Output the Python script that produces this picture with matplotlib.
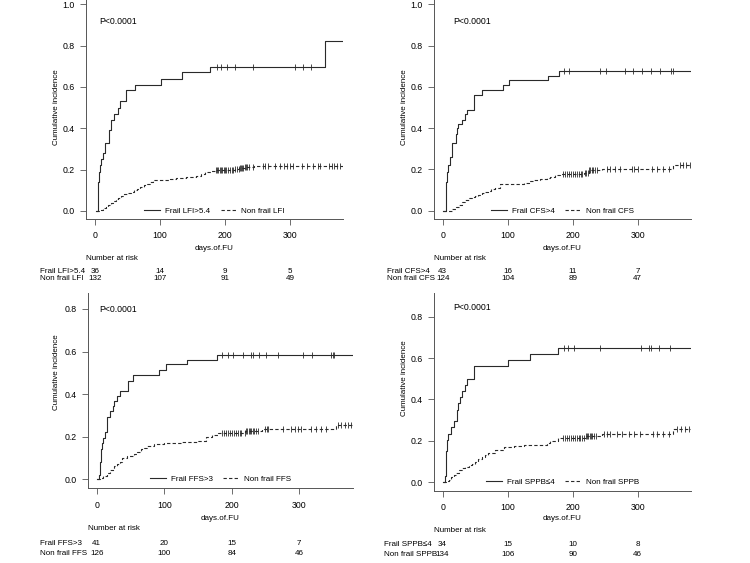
import numpy as np
import matplotlib
matplotlib.use("Agg")
import matplotlib.pyplot as plt
from matplotlib.transforms import blended_transform_factory

plt.rcParams['font.family'] = ['Liberation Sans', 'DejaVu Sans']

# ---- data (days, cumulative incidence) ----
# LFI
lfi_frail_t = [1, 5, 6, 8, 10, 13, 16, 22, 24, 30, 36, 38, 47, 61, 101, 134, 177, 354, 382]
lfi_frail_v = [0, 0.14, 0.19, 0.22, 0.25, 0.28, 0.33, 0.39, 0.44, 0.47, 0.50, 0.53, 0.585, 0.61, 0.64, 0.67, 0.695, 0.82, 0.82]
lfi_frail_cens = [187, 194, 203, 216, 243, 307, 320, 333]
lfi_non_t = [1, 10, 13, 17, 20, 24, 28, 32, 36, 40, 45, 50, 55, 60, 65, 70, 75, 80, 85, 90, 100,
             115, 125, 140, 155, 163, 170, 178, 186, 215, 222, 230, 245, 382]
lfi_non_v = [0, 0.006, 0.012, 0.02, 0.03, 0.04, 0.048, 0.056, 0.064, 0.072, 0.08, 0.087, 0.094, 0.1,
             0.108, 0.116, 0.124, 0.132, 0.14, 0.148, 0.152, 0.156, 0.16, 0.164, 0.168, 0.178, 0.186,
             0.195, 0.2, 0.205, 0.21, 0.214, 0.218, 0.218]
lfi_non_cens = [186, 188, 190, 192, 194, 196, 198, 200, 202, 204, 207, 210, 213, 216, 219, 221, 223,
                224, 226, 228, 230, 232, 234, 237, 243, 258, 262, 266, 277, 285, 291, 295, 300, 305,
                318, 326, 335, 343, 346, 360, 364, 368, 372, 377]

# CFS
cfs_frail_t = [1, 4.5, 6, 8, 11, 15, 20, 22, 24, 29, 35, 38, 48, 61, 92, 102, 162, 179, 382]
cfs_frail_v = [0, 0.14, 0.19, 0.22, 0.26, 0.33, 0.37, 0.40, 0.42, 0.44, 0.47, 0.49, 0.56, 0.585,
               0.607, 0.633, 0.653, 0.677, 0.677]
cfs_frail_cens = [187, 194, 242, 251, 280, 292, 307, 321, 334, 351, 354]
cfs_non_t = [1, 15, 20, 25, 30, 35, 40, 45, 50, 55, 60, 65, 70, 75, 80, 88, 125, 132, 140, 150,
             160, 165, 172, 180, 218, 225, 245, 355, 382]
cfs_non_v = [0, 0.01, 0.02, 0.03, 0.04, 0.05, 0.06, 0.065, 0.07, 0.078, 0.085, 0.09, 0.095, 0.103,
             0.11, 0.129, 0.135, 0.142, 0.149, 0.153, 0.157, 0.165, 0.172, 0.178, 0.185, 0.195,
             0.2, 0.222, 0.222]
cfs_non_cens = [185, 188, 191, 194, 197, 200, 203, 206, 209, 212, 215, 219, 221, 223, 225, 227, 229,
                231, 234, 237, 253, 257, 265, 273, 291, 295, 300, 322, 330, 339, 348, 365, 370, 375, 380]

# FFS
ffs_frail_t = [1, 3, 5, 6, 8, 9, 12, 16, 20, 24, 26, 30, 35, 47, 54, 92, 103, 134, 178, 382]
ffs_frail_v = [0, 0.02, 0.08, 0.141, 0.17, 0.195, 0.22, 0.294, 0.32, 0.344, 0.37, 0.39, 0.415,
               0.463, 0.49, 0.513, 0.54, 0.562, 0.586, 0.586]
ffs_frail_cens = [185, 194, 202, 216, 229, 232, 240, 251, 268, 305, 319, 347, 350, 352]
ffs_non_t = [1, 5, 10, 15, 20, 25, 30, 35, 37, 45, 55, 60, 65, 70, 75, 85, 100, 125, 150, 162,
             170, 180, 220, 245, 354, 382]
ffs_non_v = [0, 0.005, 0.015, 0.03, 0.045, 0.06, 0.07, 0.08, 0.1, 0.11, 0.12, 0.13, 0.14, 0.148,
             0.155, 0.166, 0.17, 0.175, 0.18, 0.2, 0.208, 0.216, 0.225, 0.235, 0.255, 0.255]
ffs_non_cens = [185, 188, 191, 194, 197, 200, 203, 206, 209, 212, 214, 219, 221, 223, 225, 227, 229,
                231, 233, 236, 239, 249, 252, 254, 276, 288, 293, 298, 303, 318, 325, 332, 340,
                357, 362, 367, 372, 377]

# SPPB
sppb_frail_t = [1, 4, 5, 6, 8, 13, 18, 22, 24, 26, 30, 35, 38, 48, 101, 134, 178, 382]
sppb_frail_v = [0, 0.03, 0.15, 0.204, 0.235, 0.265, 0.295, 0.35, 0.385, 0.41, 0.44, 0.47, 0.5,
                0.56, 0.589, 0.62, 0.649, 0.649]
sppb_frail_cens = [186, 193, 202, 242, 305, 317, 321, 333, 350]
sppb_non_t = [1, 5, 10, 13, 17, 20, 25, 30, 35, 40, 45, 50, 55, 60, 65, 70, 80, 95, 110, 125, 150,
              160, 165, 178, 220, 245, 355, 382]
sppb_non_v = [0, 0.005, 0.01, 0.025, 0.035, 0.045, 0.06, 0.068, 0.075, 0.083, 0.09, 0.1, 0.11,
              0.12, 0.13, 0.14, 0.155, 0.172, 0.175, 0.178, 0.18, 0.19, 0.2, 0.216, 0.225, 0.235,
              0.258, 0.258]
sppb_non_cens = [185, 188, 191, 194, 197, 200, 203, 206, 209, 212, 215, 218, 220, 222, 224, 226,
                 228, 230, 233, 236, 248, 253, 258, 268, 276, 287, 295, 304, 324, 330, 339, 348,
                 361, 367, 373, 379]

# labels and numbers at risk
risk_times = [0, 100, 200, 300]
frail_labels = ["Frail LFI>5.4", "Frail CFS>4", "Frail FFS>3", "Frail SPPB\u22644"]
non_labels = ["Non frail LFI", "Non frail CFS", "Non frail FFS", "Non frail SPPB"]
frail_risk = [[36, 14, 9, 5], [43, 16, 11, 7], [41, 20, 15, 7], [34, 15, 10, 8]]
non_risk = [[132, 107, 91, 49], [124, 104, 89, 47], [126, 100, 84, 46], [134, 106, 90, 46]]

curves = [
    (lfi_frail_t, lfi_frail_v, lfi_frail_cens, lfi_non_t, lfi_non_v, lfi_non_cens),
    (cfs_frail_t, cfs_frail_v, cfs_frail_cens, cfs_non_t, cfs_non_v, cfs_non_cens),
    (ffs_frail_t, ffs_frail_v, ffs_frail_cens, ffs_non_t, ffs_non_v, ffs_non_cens),
    (sppb_frail_t, sppb_frail_v, sppb_frail_cens, sppb_non_t, sppb_non_v, sppb_non_cens),
]

# ---- layout (pixels in a 750x563 canvas) ----
W, H = 750, 563
panels = [
    dict(l=86, r=343, t=-4, b=219, xlim=(-13.8, 381.5), ylim=(-0.039, 1.04), ymax=1.0,
         py=22, px=99, ylx=57, yly=107, xly=248, nar=259, rows=(271.7, 278.3), lab=40),
    dict(l=434, r=691, t=-4, b=219, xlim=(-13.4, 382), ylim=(-0.040, 1.04), ymax=1.0,
         py=22, px=453, ylx=405, yly=107, xly=248, nar=259, rows=(271.7, 278.3), lab=387),
    dict(l=87.7, r=353, t=293, b=488, xlim=(-13.3, 379.5), ylim=(-0.041, 0.875), ymax=0.8,
         py=310, px=99, ylx=57, yly=372, xly=518, nar=528, rows=(543.3, 553.3), lab=40),
    dict(l=434, r=691, t=293.3, b=490.7, xlim=(-13.3, 382), ylim=(-0.041, 0.913), ymax=0.8,
         py=307, px=453, ylx=405, yly=378, xly=519, nar=530, rows=(545, 555), lab=384),
]

fs = 5.8
tfs = 6.3
line_col = '#2a2a2a'
ax_col = '#555555'

fig = plt.figure(figsize=(W / 100, H / 100), dpi=100)


def fx(p):
    return p / W


def fy(p):
    return 1 - p / H


for i, (p, c) in enumerate(zip(panels, curves)):
    ax = fig.add_axes([fx(p['l']), fy(p['b']), (p['r'] - p['l']) / W, (p['b'] - p['t']) / H])
    ft, fv, fc, nt, nv, nc = c
    ax.step(ft, fv, where='post', color=line_col, lw=0.8, label=frail_labels[i])
    ax.step(nt, nv, where='post', color=line_col, lw=0.8, ls=(0, (3, 2)), label=non_labels[i])
    # censor marks sit on the curve
    for t, v, cens in [(ft, fv, fc), (nt, nv, nc)]:
        idx = np.searchsorted(t, cens, side='right') - 1
        ax.plot(cens, np.asarray(v)[idx], ls='none', marker='|', ms=5, mew=0.6, color=line_col)

    ax.set_xlim(*p['xlim'])
    ax.set_ylim(*p['ylim'])
    ax.set_xticks(risk_times)
    yt = np.round(np.arange(0, p['ymax'] + 0.01, 0.2), 1)
    ax.set_yticks(yt)
    ax.set_yticklabels(["%.1f" % v for v in yt])
    for s in ['top', 'right']:
        ax.spines[s].set_visible(False)
    for s in ['left', 'bottom']:
        ax.spines[s].set_color(ax_col)
        ax.spines[s].set_linewidth(0.7)
    ax.tick_params(direction='out', length=4, width=0.6, color=ax_col, labelsize=tfs)
    ax.tick_params(axis='x', pad=5)
    ax.tick_params(axis='y', pad=4)

    y0 = (0 - p['ylim'][0]) / (p['ylim'][1] - p['ylim'][0])
    ax.legend(loc='center', bbox_to_anchor=(0.5, y0), ncol=2, frameon=False, fontsize=fs,
              handlelength=2.0, handletextpad=0.6, columnspacing=1.3, borderpad=0)

    fig.text(fx(p['px']), fy(p['py']), "P<0.0001", fontsize=6.3, ha='left', va='center')
    fig.text(fx(p['ylx']), fy(p['yly']), "Cumulative incidence", fontsize=fs, rotation=90,
             ha='center', va='center')
    fig.text(fx((p['l'] + p['r']) / 2), fy(p['xly']), "days.of.FU", fontsize=fs,
             ha='center', va='center')
    fig.text(fx(p['l']), fy(p['nar']), "Number at risk", fontsize=fs, ha='left', va='center')

    tr = blended_transform_factory(ax.transData, fig.transFigure)
    for lab, nums, ry in [(frail_labels[i], frail_risk[i], p['rows'][0]),
                          (non_labels[i], non_risk[i], p['rows'][1])]:
        fig.text(fx(p['lab']), fy(ry), lab, fontsize=fs, ha='left', va='center')
        for t, n in zip(risk_times, nums):
            ax.text(t, fy(ry), str(n), transform=tr, fontsize=fs, ha='center', va='center')

fig.savefig("out.png", dpi=100)
